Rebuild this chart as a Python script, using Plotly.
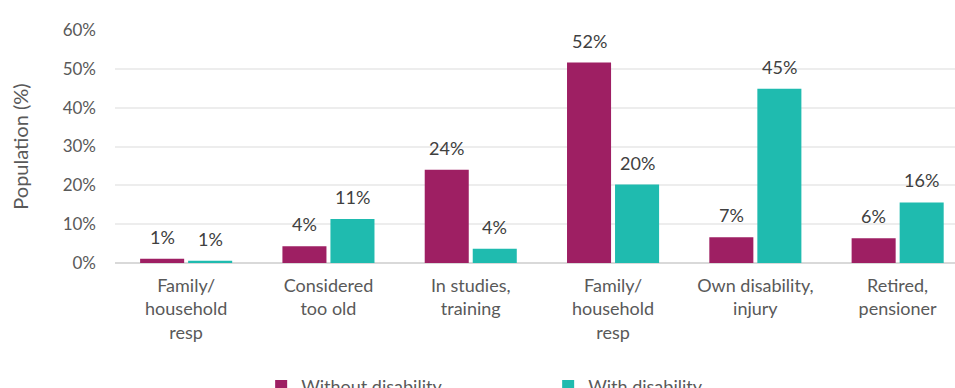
import plotly.graph_objects as go

# Reasons for being outside the labour force, by disability status
categories = [
    "Family/<br>household<br>resp",
    "Considered<br>too old",
    "In studies,<br>training",
    "Family/<br>household<br>resp",
    "Own disability,<br>injury",
    "Retired,<br>pensioner",
]
without_disability = [1.1, 4.3, 24.0, 51.6, 6.6, 6.4]
with_disability = [0.6, 11.3, 3.7, 20.2, 44.9, 15.6]
y_ticks = [0, 10, 20, 30, 40, 50, 60]

MAGENTA = "#9E1F63"
TEAL = "#1FBBAF"
FONT = "Lato"

x_idx = list(range(len(categories)))

fig = go.Figure()
fig.add_trace(go.Bar(
    name="Without disability", x=x_idx, y=without_disability,
    marker=dict(color=MAGENTA, line=dict(width=0)),
))
fig.add_trace(go.Bar(
    name="With disability", x=x_idx, y=with_disability,
    marker=dict(color=TEAL, line=dict(width=0)),
))

# value labels above each bar
annotations = []
for series, shift in ((without_disability, -24), (with_disability, 24)):
    for i, v in enumerate(series):
        annotations.append(dict(
            x=i, y=v, xref="x", yref="y", xshift=shift, yshift=9,
            text=f"{v:.0f}%", showarrow=False, yanchor="bottom",
            font=dict(family=FONT, size=18, color="#404040"),
        ))

fig.update_layout(
    width=955, height=388,
    margin=dict(l=115, r=0, t=30, b=125, autoexpand=False),
    paper_bgcolor="white", plot_bgcolor="white",
    barmode="group", bargap=0.325, bargroupgap=0.083,
    font=dict(family=FONT, size=17, color="#595959"),
    annotations=annotations,
    showlegend=True,
    legend=dict(
        orientation="h", x=0.174, xanchor="left", y=-0.45, yanchor="top",
        entrywidth=242, entrywidthmode="pixels",
        font=dict(family=FONT, size=18, color="#595959"),
        itemwidth=30,
    ),
)
fig.update_xaxes(
    tickvals=x_idx, ticktext=categories, range=[-0.5, 5.403],
    showgrid=False, showline=False, ticks="", ticklabelstandoff=10,
    tickfont=dict(family=FONT, size=18, color="#595959"),
)
fig.update_yaxes(
    range=[0, 60], tickvals=y_ticks, ticktext=[f"{t}%" for t in y_ticks],
    showgrid=True, gridcolor="#EDEDED", gridwidth=2,
    zeroline=True, zerolinecolor="#D9D9D9", zerolinewidth=2,
    ticks="", ticklabelstandoff=18,
    tickfont=dict(family=FONT, size=17, color="#595959"),
    title=dict(text="Population (%)", standoff=28,
               font=dict(family=FONT, size=20, color="#595959")),
)

fig.write_html("out.html")
